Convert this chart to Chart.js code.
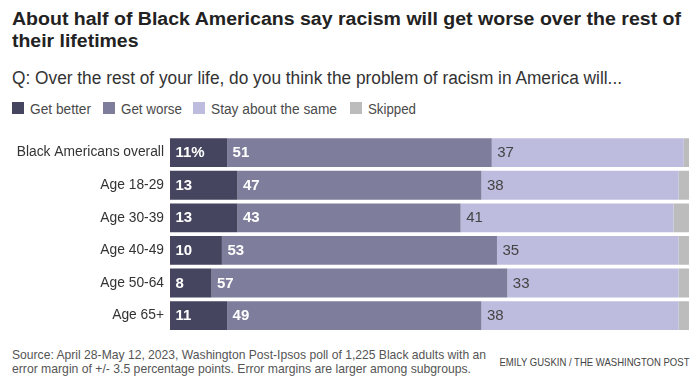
<!DOCTYPE html>
<html>
<head>
<meta charset="utf-8">
<script src="https://cdn.jsdelivr.net/npm/chart.js@4.4.1/dist/chart.umd.min.js"></script>
<style>
  html, body { margin: 0; padding: 0; background: #fff; }
  body { width: 697px; height: 383px; position: relative; overflow: hidden; font-family: "Liberation Sans", Arial, sans-serif; }
  .t { position: absolute; white-space: nowrap; display: inline-block; transform-origin: left center; }
  .title { left: 11.5px; font-family: "Liberation Sans", Arial, sans-serif; font-weight: bold; font-size: 18px; line-height: 18px; color: #222; }
  .sub { left: 11.5px; font-family: "Liberation Sans", Arial, sans-serif; font-size: 18px; line-height: 18px; color: #333; }
  .foot { left: 11.5px; font-family: "Liberation Sans", Arial, sans-serif; font-size: 13px; line-height: 13px; color: #555; }
  .credit { font-family: "Liberation Sans Narrow", "Liberation Sans", sans-serif; font-size: 10.5px; line-height: 10px; color: #444; transform-origin: right center; }
  #legend { position: absolute; left: 0; top: 0; }
  .lg-box { position: absolute; width: 12px; height: 12px; }
  .lg-txt { font-family: "Liberation Sans", Arial, sans-serif; font-size: 14px; line-height: 14px; color: #4a4a4a; }
  #wrap { position: absolute; left: 0; top: 130px; width: 697px; height: 210px; }
</style>
</head>
<body>
<div class="t title" style="top:10px" data-w="669">About half of Black Americans say racism will get worse over the rest of</div>
<div class="t title" style="top:31.7px" data-w="126.5">their lifetimes</div>
<div class="t sub" style="top:69px" data-w="610">Q: Over the rest of your life, do you think the problem of racism in America will...</div>
<div id="legend"></div>
<div id="wrap"><canvas id="c"></canvas></div>
<div class="t foot" style="top:347.5px" data-w="474">Source: April 28-May 12, 2023, Washington Post-Ipsos poll of 1,225 Black adults with an</div>
<div class="t foot" style="top:361.5px" data-w="459">error margin of +/- 3.5 percentage points. Error margins are larger among subgroups.</div>
<div class="t credit" style="top:356.7px; right:7.7px;" data-w="190">EMILY GUSKIN / THE WASHINGTON POST</div>
<script>
const categories = ['Black Americans overall', 'Age 18-29', 'Age 30-39', 'Age 40-49', 'Age 50-64', 'Age 65+'];
const seriesNames = ['Get better', 'Get worse', 'Stay about the same', 'Skipped'];
const getBetter = [11, 13, 13, 10, 8, 11];
const getWorse = [51, 47, 43, 53, 57, 49];
const staySame = [37, 38, 41, 35, 33, 38];
const skipped = [1, 2, 3, 2, 2, 2];

const colors = ['#45455f', '#7e7e9c', '#bdbcde', '#bcbcbc'];
const labelColors = ['#ffffff', '#ffffff', '#444444', null];
const labelWeights = ['bold', 'bold', 'normal', 'normal'];
const seriesValues = [getBetter, getWorse, staySame, skipped];

// legend (HTML)
const legendX = [[12, 30], [103, 121], [193, 211], [350, 368]];
const legendW = [61, 61, 126, 48];
const lg = document.getElementById('legend');
seriesNames.forEach((n, i) => {
  const b = document.createElement('div');
  b.className = 'lg-box';
  b.style.left = legendX[i][0] + 'px';
  b.style.top = '102px';
  b.style.background = colors[i];
  lg.appendChild(b);
  const t = document.createElement('div');
  t.className = 't lg-txt';
  t.style.left = legendX[i][1] + 'px';
  t.style.top = '101.7px';
  t.dataset.w = legendW[i];
  t.textContent = n;
  lg.appendChild(t);
});

function fitAll() {
  document.querySelectorAll('[data-w]').forEach(el => {
    el.style.transform = '';
    const w = el.getBoundingClientRect().width;
    const target = parseFloat(el.dataset.w);
    if (w > 0) el.style.transform = 'scaleX(' + (target / w) + ')';
  });
}

const segLabels = {
  id: 'segLabels',
  afterDatasetsDraw(chart) {
    const ctx = chart.ctx;
    ctx.save();
    ctx.textBaseline = 'middle';
    ctx.textAlign = 'left';
    chart.data.datasets.forEach((ds, di) => {
      if (!labelColors[di]) return;
      const meta = chart.getDatasetMeta(di);
      meta.data.forEach((el, i) => {
        const p = el.getProps(['x', 'y', 'base'], true);
        const start = Math.min(p.x, p.base);
        let txt = String(ds.data[i]);
        if (di === 0 && i === 0) txt += '%';
        ctx.fillStyle = labelColors[di];
        ctx.font = labelWeights[di] + ' 15px "Liberation Sans", Arial, sans-serif';
        ctx.fillText(txt, start + 5.5, p.y + 0.5);
      });
    });
    ctx.restore();
  }
};

const chart = new Chart(document.getElementById('c'), {
  type: 'bar',
  data: {
    labels: categories,
    datasets: seriesNames.map((n, i) => ({
      label: n,
      data: seriesValues[i],
      backgroundColor: colors[i],
      borderWidth: 0,
      barPercentage: 0.884,
      categoryPercentage: 1.0
    }))
  },
  options: {
    indexAxis: 'y',
    responsive: true,
    maintainAspectRatio: false,
    animation: false,
    layout: { padding: { top: 5, bottom: 8.1, left: 0, right: 8 } },
    plugins: { legend: { display: false }, tooltip: { enabled: false }, title: { display: false } },
    scales: {
      x: { stacked: true, min: 0, max: 100, display: false },
      y: {
        stacked: true,
        grid: { display: false, drawTicks: false },
        border: { display: false },
        ticks: { color: '#333', padding: 6, font: { family: '"Liberation Sans", Arial, sans-serif', size: 13.8, lineHeight: 0.05 } },
        afterFit(scale) { scale.width = 170; }
      }
    }
  },
  plugins: [segLabels]
});

fitAll();
if (document.fonts && document.fonts.ready) document.fonts.ready.then(fitAll);
</script>
</body>
</html>
